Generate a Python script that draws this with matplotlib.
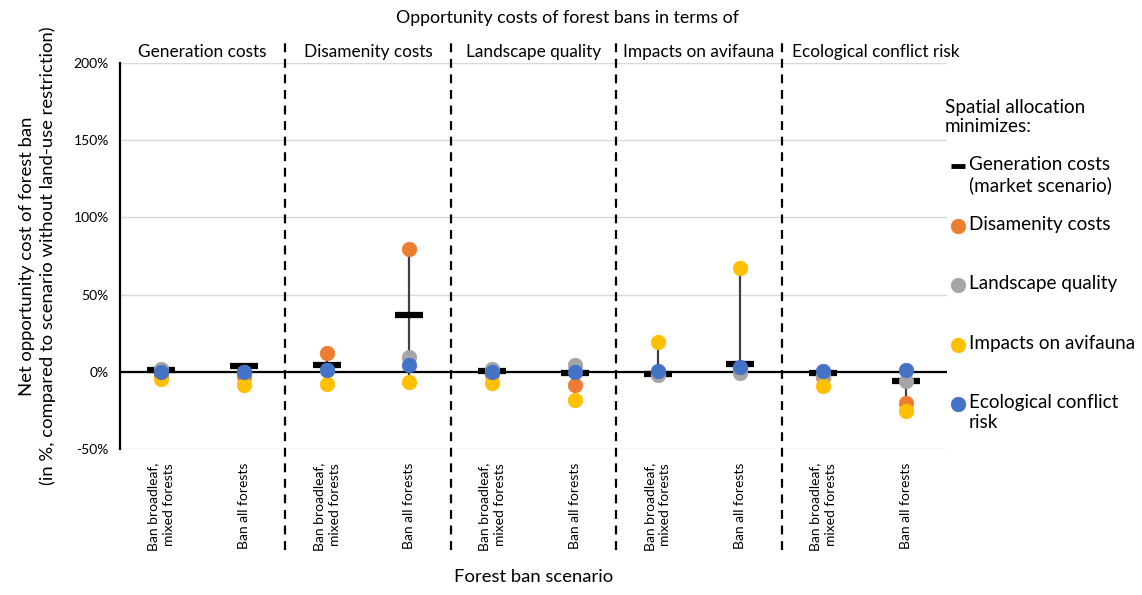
import numpy as np
import matplotlib
matplotlib.use("Agg")
from matplotlib import pyplot as plt

plt.rcParams['font.family'] = ['Lato', 'DejaVu Sans']

# data (percent)
groups = ["Generation costs", "Disamenity costs", "Landscape quality",
          "Impacts on avifauna", "Ecological conflict risk"]
scenarios = ["Ban broadleaf,\nmixed forests", "Ban all forests"]

gen_costs = [1.0, 3.7, 4.3, 36.5, 0.6, -1.1, -1.5, 5.0, -0.6, -6.2]
disamenity = [-2.0, -2.5, 12.3, 79.4, -1.5, -8.3, -1.0, 2.0, -3.6, -20.0]
landscape = [1.5, 0.0, 1.0, 9.3, 2.0, 4.6, -2.0, -0.5, -2.0, -6.0]
avifauna = [-4.7, -8.4, -8.2, -6.5, -7.0, -18.0, 19.6, 67.0, -9.0, -25.6]
eco_risk = [0.0, 0.0, 1.3, 4.3, 0.0, 0.0, 0.5, 3.0, 0.5, 1.3]

series_names = ["Generation costs\n(market scenario)", "Disamenity costs",
                "Landscape quality", "Impacts on avifauna",
                "Ecological conflict\nrisk"]
colors = ["black", "#ED7D31", "#A5A5A5", "#FFC000", "#4472C4"]

fig = plt.figure(figsize=(11.42, 5.95), dpi=100)
ax = fig.add_axes([0.1051, 0.2454, 0.7242, 0.6487])

x = np.arange(len(gen_costs))
allv = np.array([gen_costs, disamenity, landscape, avifauna, eco_risk])

# high-low lines
ax.vlines(x, allv.min(axis=0), allv.max(axis=0), color="#404040", lw=1.6, zorder=2)

ax.plot(x, gen_costs, ls="none", marker="_", ms=19.5, mew=4.5, color=colors[0], zorder=3)
for vals, c in zip([disamenity, landscape, avifauna, eco_risk], colors[1:]):
    ax.plot(x, vals, ls="none", marker="o", ms=10.5, mec=c, mew=0.5, color=c, zorder=4)

ax.axhline(0, color="black", lw=1.6, zorder=2.5)
ax.set_xlim(-0.5, len(x) - 0.5)
ax.set_ylim(-50, 200)
ax.set_yticks(np.arange(-50, 201, 50))
ax.set_yticklabels(["%d%%" % v for v in np.arange(-50, 201, 50)], fontsize=10)
ax.yaxis.grid(True, color="#D9D9D9", lw=1)
ax.set_axisbelow(True)
ax.tick_params(axis="y", length=0, pad=8)

ax.set_xticks(x)
ax.set_xticklabels(scenarios * len(groups), rotation=90, va="top", ha="center",
                   multialignment="right", fontsize=10, linespacing=1.35)
ax.tick_params(axis="x", length=0, pad=10)

for s in ["top", "right", "bottom"]:
    ax.spines[s].set_visible(False)
ax.spines["left"].set_linewidth(1.6)

# group dividers and headers
for k in range(1, len(groups)):
    ax.axvline(2 * k - 0.5, ymin=-0.262, ymax=1.06, color="black", lw=1.6,
               ls=(0, (4, 3)), clip_on=False)
for k, g in enumerate(groups):
    if k == len(groups) - 1:
        # last header sits left-aligned just right of the divider
        ax.text(2 * k - 0.38, 1.0286, g, transform=ax.get_xaxis_transform(),
                ha="left", va="center", fontsize=12.4)
    else:
        ax.text(2 * k + 0.5, 1.0286, g, transform=ax.get_xaxis_transform(),
                ha="center", va="center", fontsize=12.4)

fig.text(567 / 1142, 1 - 18 / 595, "Opportunity costs of forest bans in terms of",
         ha="center", va="center", fontsize=12.8)

ax.set_ylabel("Net opportunity cost of forest ban\n(in %, compared to scenario without land-use restriction)",
              fontsize=13.3, linespacing=1.3)
ax.yaxis.set_label_coords(-0.078, 0.5)
ax.set_xlabel("Forest ban scenario", fontsize=13.3)
ax.xaxis.set_label_coords(0.5, -0.31)

# legend drawn in a pixel-space overlay axes
lax = fig.add_axes([0, 0, 1, 1])
lax.set_xlim(0, 1142)
lax.set_ylim(595, 0)
lax.axis("off")
lax.text(945, 117, "Spatial allocation\nminimizes:", ha="left", va="center",
         fontsize=13.6, linespacing=1.2)
for i, (name, c) in enumerate(zip(series_names, colors)):
    yy = 166 + 59.6 * i
    if i == 0:
        lax.plot([958], [yy], marker="_", ms=10, mew=3.5, color=c)
    else:
        lax.plot([958], [yy], marker="o", ms=10.5, mec=c, mew=0.5, color=c)
    lax.text(969, yy - 10, name, ha="left", va="top", fontsize=13.6, linespacing=1.2)

fig.savefig("out.png", dpi=100)
